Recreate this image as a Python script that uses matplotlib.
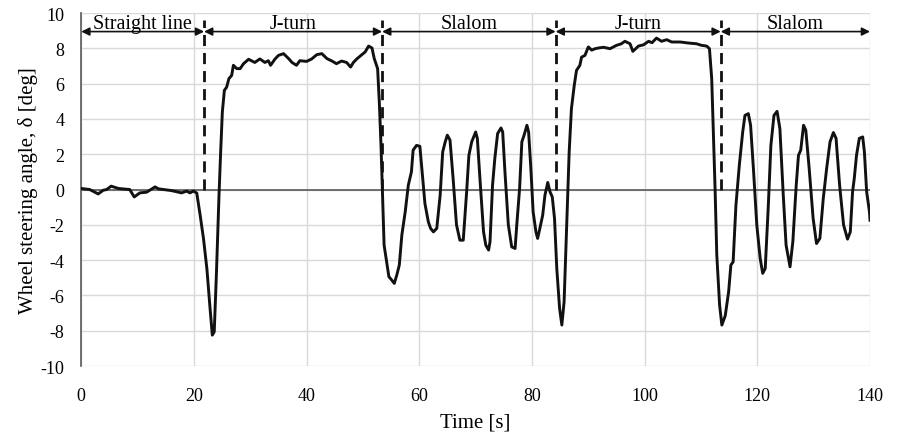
import numpy as np
import matplotlib
matplotlib.use("Agg")
import matplotlib.pyplot as plt

# --- данные ---
time_s = [
    0.0, 1.5, 3.0, 3.9, 4.5, 5.3, 6.6, 8.6, 9.4, 10.4, 11.6, 13.1, 13.7, 16.0,
    17.8, 18.7, 19.3, 19.9, 20.5, 21.1, 21.7, 22.3, 22.85, 23.26, 23.6, 24.0,
    24.45, 24.74, 25.04, 25.4, 25.8, 26.2, 26.7, 27.0, 27.6, 28.2, 28.8, 29.7,
    30.2, 30.8, 31.7, 32.6, 33.2, 33.6, 34.4, 35.0, 35.9, 36.8, 37.4, 38.2,
    38.8, 40.0, 40.9, 41.8, 42.7, 43.6, 44.5, 45.3, 46.2, 47.1, 47.8, 48.3,
    48.9, 49.8, 50.4, 51.0, 51.6, 52.0, 52.6, 52.9, 53.2, 53.45, 53.75, 54.2,
    54.6, 55.1, 55.56, 56.0, 56.45, 56.9, 57.5, 58.05, 58.6, 58.9, 59.5, 60.1,
    60.6, 61.0, 61.6, 62.0, 62.5, 63.1, 63.7, 64.15, 64.6, 64.97, 65.45, 66.0,
    66.6, 67.2, 67.8, 68.4, 68.8, 69.3, 70.0, 70.3, 70.8, 71.4, 71.8, 72.3,
    72.55, 73.0, 73.4, 73.9, 74.5, 74.8, 75.2, 75.8, 76.4, 77.0, 77.3, 77.8,
    78.2, 78.6, 79.1, 79.4, 79.8, 80.2, 80.7, 81.0, 81.4, 81.9, 82.3, 82.8,
    83.2, 83.6, 84.0, 84.4, 84.9, 85.3, 85.7, 86.2, 86.6, 87.0, 87.5, 87.9,
    88.5, 88.8, 89.4, 90.0, 90.6, 91.2, 91.8, 92.7, 93.85, 95.0, 95.8, 96.5,
    97.4, 97.9, 98.3, 98.9, 99.8, 100.7, 101.3, 102.1, 103.0, 103.9, 104.8,
    106.3, 107.8, 109.2, 110.1, 111.0, 111.5, 111.9, 112.2, 112.5, 112.8,
    113.3, 113.7, 114.3, 114.9, 115.3, 115.7, 116.2, 116.8, 117.4, 117.8,
    118.4, 118.8, 119.3, 119.9, 120.5, 120.95, 121.4, 121.95, 122.4, 122.95,
    123.5, 124.0, 124.6, 125.1, 125.8, 126.3, 126.9, 127.3, 127.7, 128.2,
    128.6, 129.2, 129.9, 130.5, 131.1, 131.7, 132.3, 132.9, 133.5, 133.97,
    134.6, 135.3, 136.0, 136.5, 136.9, 137.2, 137.6, 138.1, 138.7, 139.0,
    139.4, 139.9, 140.0,
]
steer_deg = [
    0.06, 0.0, -0.25, -0.04, 0.0, 0.19, 0.06, 0.0, -0.42, -0.19, -0.15, 0.15, 0.04, -0.06,
    -0.19, -0.09, -0.19, -0.09, -0.2, -1.45, -2.8, -4.5, -6.7, -8.25, -8.06, -4.66,
    -0.3, 2.13, 4.4, 5.62, 5.8, 6.28, 6.47, 7.04, 6.85, 6.85, 7.13, 7.38,
    7.3, 7.2, 7.4, 7.2, 7.3, 7.04, 7.4, 7.6, 7.7, 7.42, 7.2, 7.04,
    7.3, 7.26, 7.4, 7.64, 7.7, 7.42, 7.28, 7.13, 7.28, 7.2, 6.94, 7.2,
    7.4, 7.64, 7.8, 8.13, 8.02, 7.42, 6.85, 4.96, 2.5, 0.0, -3.15, -4.1,
    -4.94, -5.13, -5.32, -4.85, -4.28, -2.58, -1.26, 0.25, 1.0, 2.23, 2.5, 2.45,
    0.62, -0.8, -1.83, -2.2, -2.4, -2.2, -0.32, 2.13, 2.7, 3.08, 2.8, 0.62,
    -2.0, -2.87, -2.87, -0.13, 1.94, 2.7, 3.26, 2.9, 0.43, -2.4, -3.15, -3.43,
    -2.96, 0.25, 1.75, 3.17, 3.49, 3.26, 1.0, -2.0, -3.25, -3.34, -2.0, 0.06,
    2.7, 3.08, 3.64, 3.26, 1.19, -1.26, -2.4, -2.77, -2.2, -1.45, -0.32, 0.4,
    -0.13, -0.42, -1.64, -4.47, -6.74, -7.68, -6.36, -1.64, 2.13, 4.58, 5.9, 6.75,
    7.04, 7.5, 7.6, 8.08, 7.9, 7.98, 8.02, 8.06, 7.98, 8.17, 8.25, 8.4,
    8.26, 7.83, 7.95, 8.13, 8.2, 8.4, 8.32, 8.58, 8.4, 8.49, 8.36,
    8.36, 8.3, 8.26, 8.17, 8.13, 7.98, 6.28, 3.08, 0.0, -3.7,
    -6.55, -7.68, -7.15, -5.8, -4.28, -4.1, -0.89, 1.38, 3.26, 4.2,
    4.3, 3.64, 1.19, -2.0, -3.9, -4.75, -4.47, -0.89, 2.5, 4.2,
    4.43, 3.45, -0.32, -3.15, -4.38, -2.96, 0.25, 1.94, 2.23, 3.64,
    3.36, 1.19, -1.64, -3.06, -2.77, -0.51, 1.19, 2.7, 3.23, 2.9,
    0.25, -2.0, -2.81, -2.4, -0.13, 0.62, 1.94, 2.9, 2.98, 2.13,
    -0.13, -1.26, -1.74,
]

# границы участков и их подписи
bounds = [0, 21.8, 53.4, 84.2, 113.5, 140]
phase_names = ["Straight line", "J-turn", "Slalom", "J-turn", "Slalom"]

plt.rcParams['font.family'] = ['Liberation Serif', 'DejaVu Serif']
plt.rcParams['axes.unicode_minus'] = False  # в оригинале обычный дефис "-10"

fig = plt.figure(figsize=(9, 4.39), dpi=100)
ax = fig.add_axes([0.0903, 0.164, 0.8764, 0.804])

# сетка и оси в стиле Excel
ax.set_xlim(0, 140)
ax.set_ylim(-10, 10)
ax.set_xticks(np.arange(0, 141, 20))
ax.set_yticks(np.arange(-10, 11, 2))
ax.grid(True, color='#d9d9d9', lw=1.0)
ax.set_axisbelow(True)
for side in ['top', 'right', 'bottom']:
    ax.spines[side].set_visible(False)
ax.spines['left'].set_color('#595959')
ax.spines['left'].set_linewidth(1.2)
ax.axhline(0, color='#595959', lw=1.2, zorder=1.5)
ax.tick_params(axis='both', length=0, labelsize=13)
ax.tick_params(axis='x', pad=15)
ax.tick_params(axis='y', pad=12)

ax.plot(time_s, steer_deg, color='#111111', lw=2.1, zorder=3)

# вертикальные пунктиры между участками
for b in bounds[1:-1]:
    ax.plot([b, b], [0, 9.6], color='#111111', lw=2.0, ls=(0, (4, 2.5)), zorder=3)

# стрелки и подписи участков
for i, name in enumerate(phase_names):
    a, b = bounds[i], bounds[i + 1]
    ax.annotate('', xy=(a, 8.95), xytext=(b, 8.95),
                arrowprops=dict(arrowstyle='<|-|>', color='#111111', lw=1.2,
                                shrinkA=0, shrinkB=0, mutation_scale=12))
    ax.text((a + b) / 2, 9.42, name, ha='center', va='center', fontsize=14.5)

ax.set_xlabel('Time [s]', fontsize=15, labelpad=6)
ax.set_ylabel('Wheel steering angle, δ [deg]', fontsize=15, labelpad=2)

fig.savefig('out.png', dpi=100)
